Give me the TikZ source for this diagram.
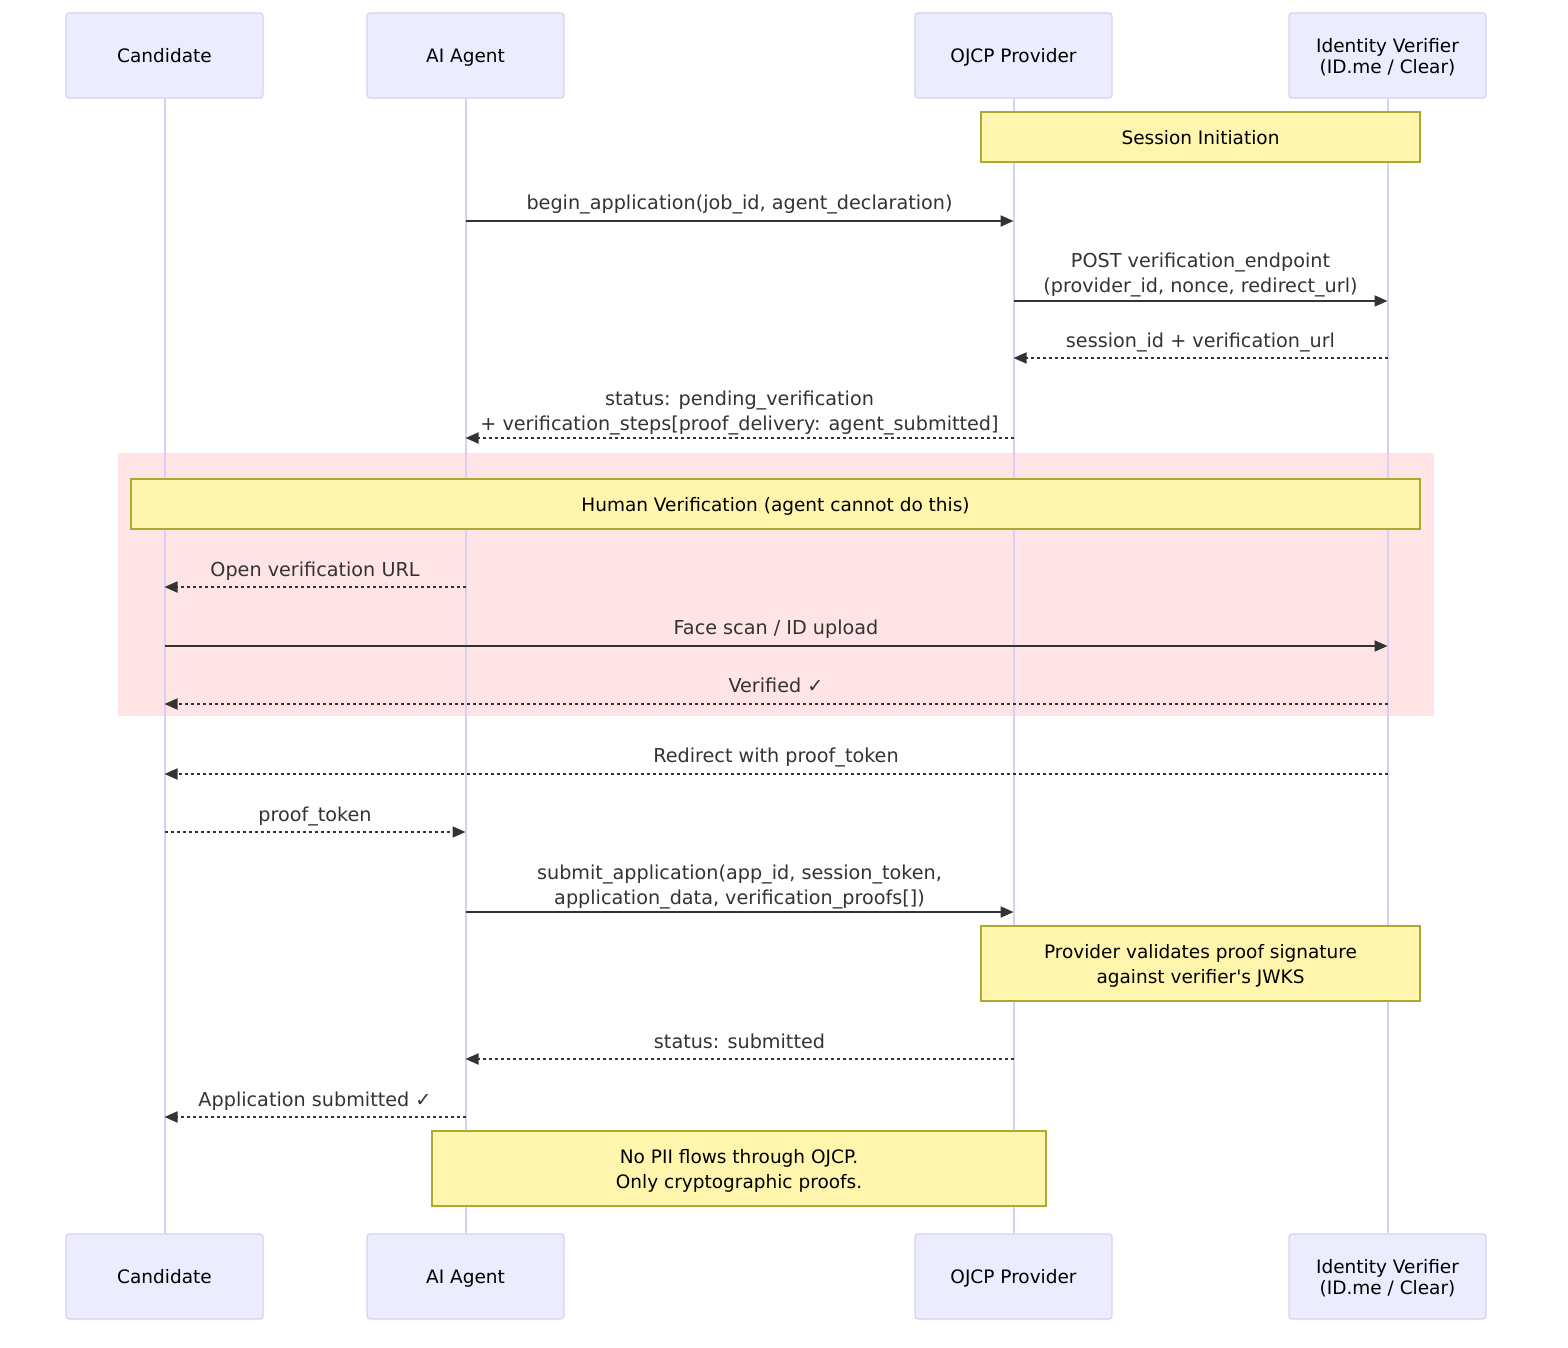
\documentclass[tikz,border=0pt]{standalone}
\usepackage{fontspec}
\setmainfont{DejaVu Sans}
\usetikzlibrary{arrows.meta}
\definecolor{actfill}{HTML}{ECECFF}
\definecolor{actline}{HTML}{DACEF3}
\definecolor{notefill}{HTML}{FFF5AD}
\definecolor{noteline}{HTML}{AAAA33}
\definecolor{msg}{HTML}{333333}
\definecolor{boxfill}{HTML}{FEE4E4}
\begin{document}
\begin{tikzpicture}[x=1pt,y=-1pt,
 actor/.style={draw=actline, fill=actfill, line width=1.2pt, rounded corners=3pt, minimum width=197pt, minimum height=85pt, inner sep=0pt, align=center, text depth=0pt, font=\fontsize{18.5}{21}\selectfont},
 life/.style={draw=actline, line width=2pt},
 note/.style={draw=noteline, fill=notefill, line width=1.2pt, inner sep=0pt, align=center, text depth=0pt, font=\fontsize{18.5}{25}\selectfont},
 msgline/.style={draw=msg, line width=1.8pt, -{Triangle[length=13pt,width=11pt]}},
 reply/.style={msgline, dash pattern=on 3pt off 3pt},
 lbl/.style={text=msg, align=center, text depth=0pt, yshift=-0.5pt, font=\fontsize{19.2}{25}\selectfont, inner sep=0pt},
]
\useasboundingbox (0,0) rectangle (1568,1348);
\fill[white] (0,0) rectangle (1568,1348);

% pink verification box
\node[fill=boxfill, inner sep=0pt, minimum width=1316pt, minimum height=263pt] (hvbox) at (776,584.5) {};

% actors
\node[actor] (candT) at (164.5,55.5) {Candidate};
\node[actor] (agentT) at (465.5,55.5) {AI Agent};
\node[actor] (ojcpT) at (1013.5,55.5) {OJCP Provider};
\node[actor] (idvT) at (1387.5,55.5) {Identity Verifier\\(ID.me / Clear)};
\node[actor] (candB) at (164.5,1276.5) {Candidate};
\node[actor] (agentB) at (465.5,1276.5) {AI Agent};
\node[actor] (ojcpB) at (1013.5,1276.5) {OJCP Provider};
\node[actor] (idvB) at (1387.5,1276.5) {Identity Verifier\\(ID.me / Clear)};

% lifelines
\draw[life] (candT.south) -- (candB.north);
\draw[life] (agentT.south) -- (agentB.north);
\draw[life] (ojcpT.south) -- (ojcpB.north);
\draw[life] (idvT.south) -- (idvB.north);

% notes
\node[note, minimum width=439pt, minimum height=50pt] (n1) at (1200.5,137) {Session Initiation};
\node[note, minimum width=1289pt, minimum height=50pt] (n2) at (775.5,504) {Human Verification (agent cannot do this)};
\node[note, minimum width=439pt, minimum height=75pt] (n3) at (1200.5,963.5) {Provider validates proof signature\\against verifier\textquotesingle s JWKS};
\node[note, minimum width=614pt, minimum height=75pt] (n4) at (739,1168.5) {No PII flows through OJCP.\\Only cryptographic proofs.};

% message endpoints
\coordinate (m1a) at (465.5,221); \coordinate (m1b) at (1013.5,221);
\coordinate (m2a) at (1013.5,301); \coordinate (m2b) at (1387.5,301);
\coordinate (m3a) at (1387.5,358); \coordinate (m3b) at (1013.5,358);
\coordinate (m4a) at (1013.5,438); \coordinate (m4b) at (465.5,438);
\coordinate (m5a) at (465.5,587); \coordinate (m5b) at (164.5,587);
\coordinate (m6a) at (164.5,646); \coordinate (m6b) at (1387.5,646);
\coordinate (m7a) at (1387.5,704); \coordinate (m7b) at (164.5,704);
\coordinate (m8a) at (1387.5,774); \coordinate (m8b) at (164.5,774);
\coordinate (m9a) at (164.5,832); \coordinate (m9b) at (465.5,832);
\coordinate (m10a) at (465.5,912); \coordinate (m10b) at (1013.5,912);
\coordinate (m11a) at (1013.5,1059); \coordinate (m11b) at (465.5,1059);
\coordinate (m12a) at (465.5,1117); \coordinate (m12b) at (164.5,1117);

% messages
\draw[msgline] (m1a) -- (m1b);
\node[lbl] (l1) at (739.5,202) {begin\_application(job\_id, agent\_declaration)};
\draw[msgline] (m2a) -- (m2b);
\node[lbl] (l2) at (1200.5,272.5) {POST verification\_endpoint\\(provider\_id, nonce, redirect\_url)};
\draw[reply] (m3a) -- (m3b);
\node[lbl] (l3) at (1200.5,340) {session\_id + verification\_url};
\draw[reply] (m4a) -- (m4b);
\node[lbl] (l4) at (739.5,410.5) {status: pending\_verification\\+ verification\_steps[proof\_delivery: agent\_submitted]};
\draw[reply] (m5a) -- (m5b);
\node[lbl] (l5) at (315,569) {Open verification URL};
\draw[msgline] (m6a) -- (m6b);
\node[lbl] (l6) at (776,627) {Face scan / ID upload};
\draw[reply] (m7a) -- (m7b);
\node[lbl] (l7) at (776,685) {Verified ✓};
\draw[reply] (m8a) -- (m8b);
\node[lbl] (l8) at (776,755) {Redirect with proof\_token};
\draw[reply] (m9a) -- (m9b);
\node[lbl] (l9) at (315,814) {proof\_token};
\draw[msgline] (m10a) -- (m10b);
\node[lbl] (l10) at (739.5,884.5) {submit\_application(app\_id, session\_token,\\application\_data, verification\_proofs[])};
\draw[reply] (m11a) -- (m11b);
\node[lbl] (l11) at (739.5,1041) {status: submitted};
\draw[reply] (m12a) -- (m12b);
\node[lbl] (l12) at (315,1099) {Application submitted ✓};
\end{tikzpicture}
\end{document}
